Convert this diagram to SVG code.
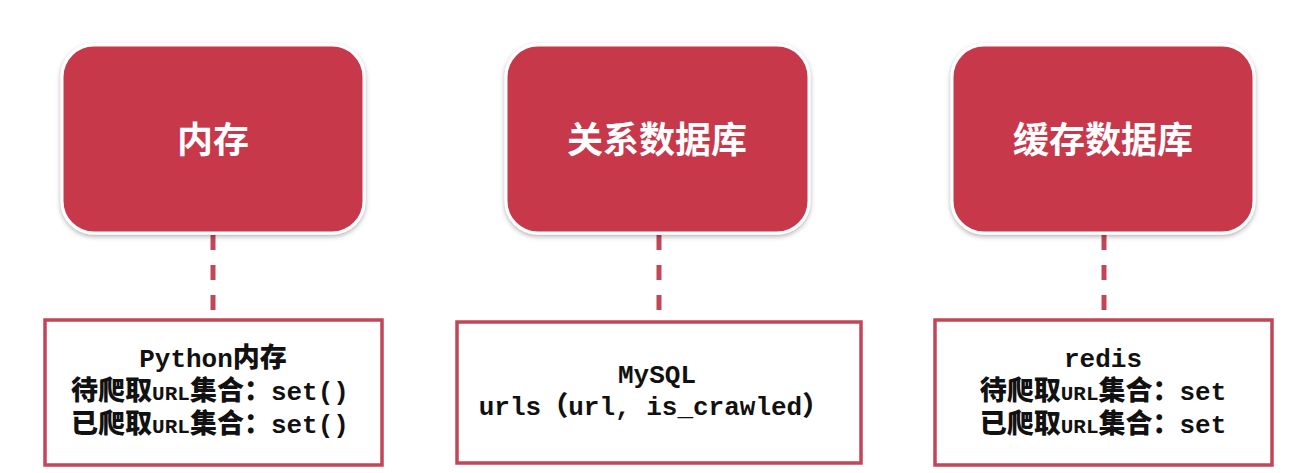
<svg xmlns="http://www.w3.org/2000/svg" width="1301" height="473" viewBox="0 0 1301 473">
<defs>
<filter id="sh" x="-10%" y="-10%" width="120%" height="125%">
<feDropShadow dx="0" dy="2" stdDeviation="2.5" flood-color="#000" flood-opacity="0.3"/>
</filter>
<style>
.top{fill:#c8394b;stroke:#fff;stroke-width:3;filter:url(#sh)}
.tt{font-family:"Noto Sans CJK SC",sans-serif;font-weight:bold;font-size:36px;fill:#fff;text-anchor:middle}
.bot{fill:#fff;stroke:#c24658;stroke-width:3.5}
.bt{font-family:"Liberation Mono","Noto Sans CJK SC",monospace;font-weight:bold;font-size:26px;fill:#111;text-anchor:middle}
.cj{font-family:"Noto Sans CJK SC",sans-serif;font-weight:900;font-size:27px}
.u{font-size:21px}
.conn{stroke:#c24658;stroke-width:5;stroke-dasharray:15 15;fill:none}
</style>
</defs>
<rect width="1301" height="473" fill="#fff"/>
<g id="connectors">
<line class="conn" x1="213" y1="235" x2="213" y2="318"/>
<line class="conn" x1="659" y1="235" x2="659" y2="318"/>
<line class="conn" x1="1104" y1="235" x2="1104" y2="318"/>
</g>
<g id="memory">
<rect class="top" x="62" y="45" width="302" height="188" rx="32"/>
<text class="tt" x="213" y="153">内存</text>
</g>
<g id="rdb">
<rect class="top" x="506" y="45" width="303" height="188" rx="32"/>
<text class="tt" x="657" y="153">关系数据库</text>
</g>
<g id="cache">
<rect class="top" x="952" y="45" width="302" height="188" rx="32"/>
<text class="tt" x="1103" y="153">缓存数据库</text>
</g>
<g id="memory-detail">
<rect class="bot" x="45" y="320" width="337" height="145"/>
<text class="bt" x="213" y="367">Python<tspan class="cj">内存</tspan></text>
<text class="bt" x="210" y="400"><tspan class="cj">待爬取</tspan><tspan class="u">URL</tspan><tspan class="cj">集合：</tspan>set()</text>
<text class="bt" x="210" y="433"><tspan class="cj">已爬取</tspan><tspan class="u">URL</tspan><tspan class="cj">集合：</tspan>set()</text>
</g>
<g id="rdb-detail">
<rect class="bot" x="457" y="322" width="404" height="141"/>
<text class="bt" x="657" y="383">MySQL</text>
<text class="bt" x="654" y="415">urls<tspan class="cj" font-weight="normal">（</tspan>url, is_crawled<tspan class="cj" font-weight="normal">）</tspan></text>
</g>
<g id="cache-detail">
<rect class="bot" x="935" y="320" width="337" height="145"/>
<text class="bt" x="1103" y="367">redis</text>
<text class="bt" x="1103" y="400"><tspan class="cj">待爬取</tspan><tspan class="u">URL</tspan><tspan class="cj">集合：</tspan>set</text>
<text class="bt" x="1103" y="433"><tspan class="cj">已爬取</tspan><tspan class="u">URL</tspan><tspan class="cj">集合：</tspan>set</text>
</g>
</svg>
